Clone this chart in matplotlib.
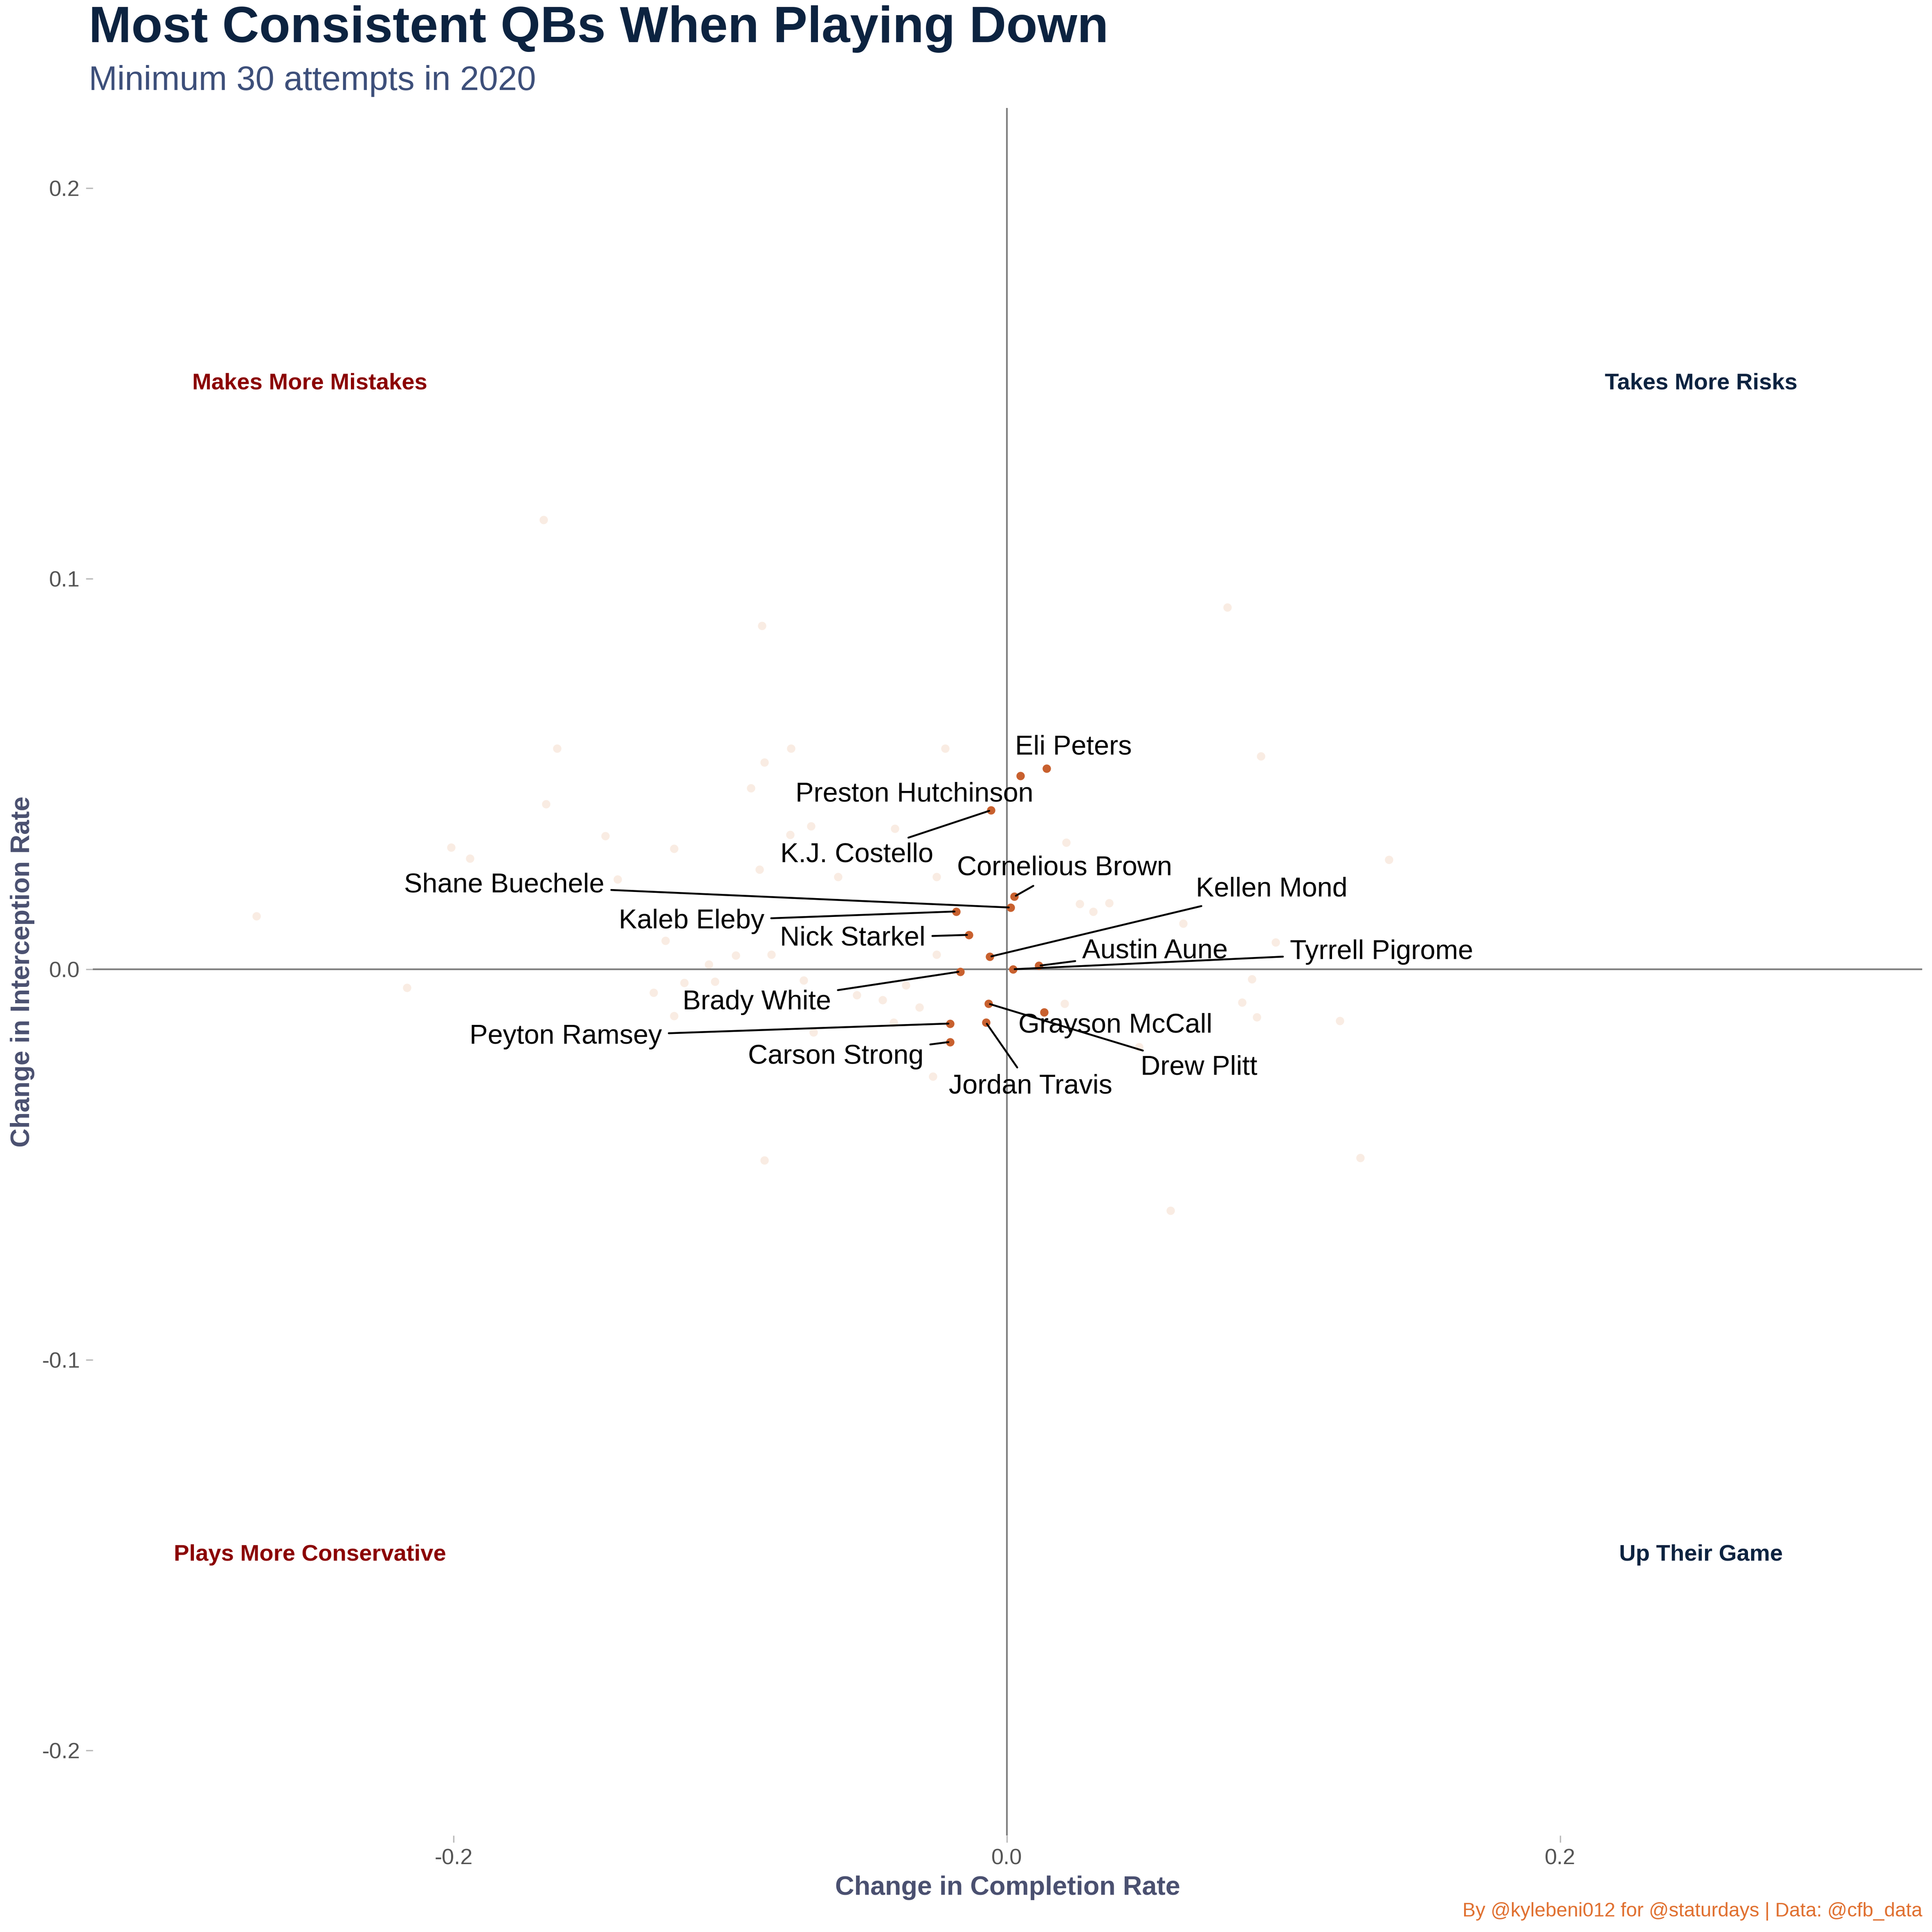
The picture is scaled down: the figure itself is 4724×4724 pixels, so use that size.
import matplotlib.pyplot as plt
import numpy as np

plt.rcParams['font.family'] = ['Liberation Sans', 'DejaVu Sans']

# highlighted QBs
names = ["Eli Peters", "Preston Hutchinson", "K.J. Costello", "Cornelious Brown",
         "Shane Buechele", "Kaleb Eleby", "Nick Starkel", "Kellen Mond",
         "Austin Aune", "Tyrrell Pigrome", "Brady White", "Grayson McCall",
         "Drew Plitt", "Jordan Travis", "Peyton Ramsey", "Carson Strong"]
comp = [0.0143, 0.0049, -0.0058, 0.0027, 0.0013, -0.0183, -0.0138, -0.0062,
        0.0116, 0.0022, -0.0169, 0.0134, -0.0067, -0.0076, -0.0205, -0.0205]
ints = [0.0514, 0.0495, 0.0407, 0.0186, 0.0158, 0.0148, 0.0088, 0.0032,
        0.0009, 0.0, -0.0006, -0.011, -0.0088, -0.0136, -0.0139, -0.0186]

# other QBs (faint)
other_comp = [-0.1675, -0.0886, 0.0797, -0.1626, -0.078, -0.0223, 0.0918, -0.0877,
              -0.0926, -0.1666, -0.0708, -0.0405, -0.0784, -0.1452, -0.2009, -0.1203,
              -0.1942, 0.1381, 0.0214, -0.0895, -0.061, -0.1408, -0.0254, 0.0263,
              0.037, 0.0312, 0.0637, -0.2713, -0.1234, -0.098, -0.0851, -0.1078,
              -0.0254, 0.0971, 0.0886, -0.1167, -0.2169, -0.0735, -0.1278, -0.0543,
              -0.045, 0.0851, 0.0209, -0.0316, 0.0904, 0.1203, -0.1203, -0.0699,
              0.0477, -0.0267, -0.0877, 0.1278, 0.0592, -0.1056, -0.0365, -0.041]
other_int = [0.1151, 0.0880, 0.0927, 0.0565, 0.0565, 0.0565, 0.0546, 0.0530,
             0.0464, 0.0423, 0.0366, 0.0360, 0.0344, 0.0341, 0.0312, 0.0309,
             0.0284, 0.0281, 0.0325, 0.0255, 0.0237, 0.0230, 0.0237, 0.0167,
             0.0170, 0.0148, 0.0117, 0.0136, 0.0073, 0.0035, 0.0038, 0.0013,
             0.0038, 0.0069, -0.0025, -0.0035, -0.0047, -0.0028, -0.0060, -0.0066,
             -0.0079, -0.0085, -0.0088, -0.0098, -0.0123, -0.0132, -0.0120, -0.0161,
             -0.0199, -0.0274, -0.0489, -0.0483, -0.0618, -0.0032, -0.0041, -0.0136]

# label placement (data coords) and whether a segment is drawn
label_pos = {
    "Eli Peters": (0.024, 0.0568, False),
    "Preston Hutchinson": (-0.0334, 0.0448, False),
    "K.J. Costello": (-0.0543, 0.0293, True),
    "Cornelious Brown": (0.0209, 0.0259, True),
    "Shane Buechele": (-0.1817, 0.0215, True),
    "Kaleb Eleby": (-0.114, 0.0123, True),
    "Nick Starkel": (-0.0557, 0.0079, True),
    "Kellen Mond": (0.0958, 0.0205, True),
    "Austin Aune": (0.0535, 0.0047, True),
    "Tyrrell Pigrome": (0.1354, 0.0044, True),
    "Brady White": (-0.0904, -0.0085, True),
    "Grayson McCall": (0.0392, -0.0145, False),
    "Drew Plitt": (0.0695, -0.0252, True),
    "Jordan Travis": (0.0085, -0.030, True),
    "Peyton Ramsey": (-0.1595, -0.0173, True),
    "Carson Strong": (-0.0619, -0.0224, True),
}

fig = plt.figure(figsize=(15.747, 15.747), dpi=300)
ax = fig.add_axes([0.048, 0.05, 0.947, 0.894])

ax.axhline(0, color='#808080', lw=1)
ax.axvline(0, color='#808080', lw=1)
ax.scatter(other_comp, other_int, s=24, color='#D2691E', alpha=0.12, lw=0)
ax.scatter(comp, ints, s=24, color='#C8602E', lw=0, zorder=3)

for i, n in enumerate(names):
    lx, ly, seg = label_pos[n]
    if seg:
        ax.annotate(n, xy=(comp[i], ints[i]), xytext=(lx, ly), ha='center', va='center',
                    fontsize=16, color='black',
                    arrowprops=dict(arrowstyle='-', color='black', lw=1.1,
                                    shrinkA=2, shrinkB=1))
    else:
        ax.text(lx, ly, n, ha='center', va='center', fontsize=16, color='black')

qkw = dict(fontsize=13.5, fontweight='bold', ha='center', va='center')
ax.text(-0.252, 0.15, "Makes More Mistakes", color='#8B0000', **qkw)
ax.text(0.251, 0.15, "Takes More Risks", color='#0C2340', **qkw)
ax.text(-0.252, -0.15, "Plays More Conservative", color='#8B0000', **qkw)
ax.text(0.251, -0.15, "Up Their Game", color='#0C2340', **qkw)

ax.set_xlim(-0.3305, 0.331)
ax.set_ylim(-0.2218, 0.2205)
ax.set_xticks([-0.2, 0.0, 0.2])
ax.set_xticklabels(["-0.2", "0.0", "0.2"])
ax.set_yticks([-0.2, -0.1, 0.0, 0.1, 0.2])
ax.set_yticklabels(["-0.2", "-0.1", "0.0", "0.1", "0.2"])
ax.tick_params(colors='#BBBBBB', labelcolor='#555555', labelsize=13, length=4)
for s in ax.spines.values():
    s.set_visible(False)
ax.set_xlabel("Change in Completion Rate", fontsize=15.5, fontweight='bold', color='#4A5070')
ax.set_ylabel("Change in Interception Rate", fontsize=15.5, fontweight='bold', color='#4A5070')

fig.text(0.046, 0.985, "Most Consistent QBs When Playing Down", fontsize=30,
         fontweight='bold', color='#0C2340', va='center')
fig.text(0.046, 0.958, "Minimum 30 attempts in 2020", fontsize=20, color='#3D4F7A', va='center')
fig.text(0.995, 0.006, "By @kylebeni012 for @staturdays | Data: @cfb_data", fontsize=11.5,
         color='#E07030', ha='right', va='bottom')

fig.savefig("out.png", dpi=300, facecolor='white')
